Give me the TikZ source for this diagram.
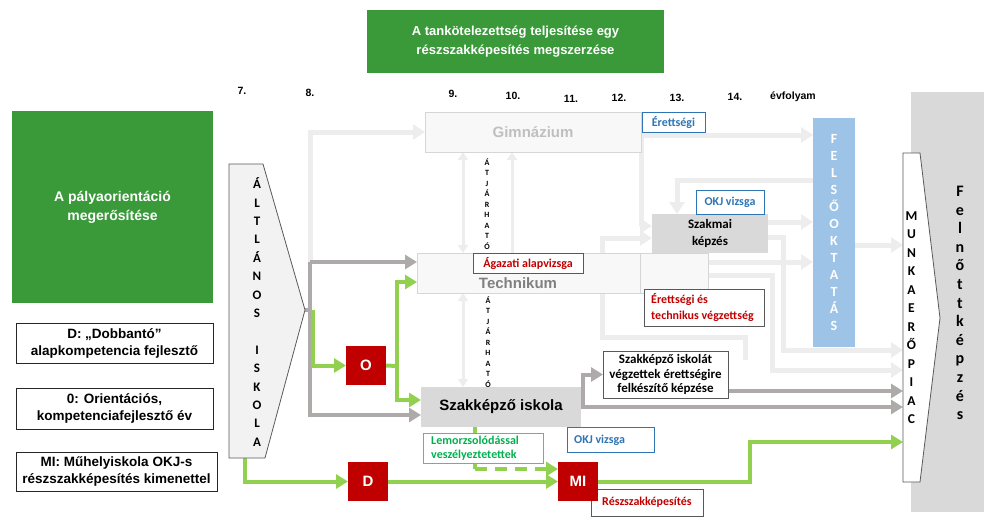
\documentclass[tikz,border=0pt]{standalone}
\usepackage{fontspec}
\setmainfont{Liberation Sans}
\newfontfamily\calib{Carlito}
\usetikzlibrary{arrows.meta,backgrounds}
\definecolor{dkgreen}{HTML}{3A9A3A}
\definecolor{redbox}{HTML}{C00000}
\definecolor{grc}{HTML}{92D050}
\definecolor{dgc}{HTML}{AEAAAA}
\definecolor{lgc}{HTML}{EDEDED}
\definecolor{bluet}{HTML}{2E75B6}
\definecolor{bluebox}{HTML}{9DC3E6}
\definecolor{boxgray}{HTML}{D9D9D9}
\definecolor{ghost}{HTML}{F8F8F8}
\definecolor{ghostline}{HTML}{D6D6D6}
\definecolor{bordc}{HTML}{595959}
\definecolor{lemg}{HTML}{00B050}
\begin{document}
\begin{tikzpicture}[x=1pt,y=-1pt,
 box/.style={inner sep=0pt,outer sep=0pt,anchor=north west,align=center},
 lg/.style={draw=lgc,line width=5pt,-{Triangle[length=12pt,width=15pt]}},
 lgd/.style={draw=lgc,line width=3pt,{Triangle[length=8pt,width=10pt]}-{Triangle[length=8pt,width=10pt]}},
 lgu/.style={draw=lgc,line width=3pt,{Triangle[length=8pt,width=10pt]}-},
 dg/.style={draw=dgc,line width=4pt,-{Triangle[length=12pt,width=14pt]}},
 dgp/.style={draw=dgc,line width=4pt},
 gr/.style={draw=grc,line width=4pt,-{Triangle[length=12pt,width=14pt]}},
 grp/.style={draw=grc,line width=4pt},
 lbl/.style={box,draw=bordc,line width=0.8pt,fill=white,font=\calib\bfseries\fontsize{12}{14}\selectfont},
 okj/.style={lbl,draw=bluet,text=bluet},
 legend/.style={box,draw=black!85,line width=0.9pt,fill=white,font=\bfseries\fontsize{13.5}{17}\selectfont},
 grade/.style={font=\bfseries\fontsize{10.5}{12}\selectfont},
 redsq/.style={box,fill=redbox,text=white,minimum width=40pt,minimum height=39pt,font=\bfseries\fontsize{15}{17}\selectfont},
 ghostbox/.style={box,fill=ghost,draw=ghostline,line width=1pt},
 vlet/.style={align=center,inner sep=0pt}
]
\useasboundingbox (0,0) rectangle (989,530);

% background column
\node[box,fill=boxgray,minimum width=73pt,minimum height=420pt] (felnott) at (911,92) {};
\node[vlet,font=\calib\bfseries\fontsize{16}{18.6}\selectfont] (felnotttxt) at (960,303)
 {F\\e\\l\\n\\ő\\t\\t\\k\\é\\p\\z\\é\\s};

% titles
\node[box,fill=dkgreen,text=white,minimum width=297pt,minimum height=63pt,
 font=\bfseries\fontsize{13}{19}\selectfont] (title) at (367,10)
 {A tankötelezettség teljesítése egy\\részszakképesítés megszerzése};
\node[box,fill=dkgreen,text=white,minimum width=201pt,minimum height=192pt,
 font=\bfseries\fontsize{14}{19}\selectfont] (palya) at (12,111)
 {A pályaorientáció\\megerősítése};

% grades
\node[grade] (g7) at (242,91) {7.};
\node[grade] (g8) at (310,93) {8.};
\node[grade] (g9) at (453,94) {9.};
\node[grade] (g10) at (513,96) {10.};
\node[grade] (g11) at (571,99) {11.};
\node[grade] (g12) at (619,98) {12.};
\node[grade] (g13) at (677,98) {13.};
\node[grade] (g14) at (735,97) {14.};
\node[grade] (gev) at (793,97) {évfolyam};

% legend
\node[legend,minimum width=197pt,minimum height=40pt] (legD) at (16,323) {D: „Dobbantó”\\alapkompetencia fejlesztő};
\node[legend,minimum width=197pt,minimum height=41pt] (leg0) at (16,388) {0: Orientációs,\\kompetenciafejlesztő év};
\node[legend,minimum width=201pt,minimum height=39pt] (legMI) at (16,452) {MI: Műhelyiskola OKJ-s\\részszakképesítés kimenettel};

% Altalanos iskola
\draw[fill=black!5,draw=black!65,line width=0.8pt] (229,164) -- (263,164) -- (305,310) -- (265,458) -- (229,458) -- cycle;
\node[vlet,font=\calib\bfseries\fontsize{13}{18.4}\selectfont] (alt) at (257,312)
 {Á\\L\\T\\L\\Á\\N\\O\\S\\~\\I\\S\\K\\O\\L\\A};
\coordinate (alttip) at (305,310);
\coordinate (altbot) at (245,458);

% schools
\node[ghostbox,minimum width=216pt,minimum height=40pt,text=black!25,font=\bfseries\fontsize{15}{17}\selectfont] (gimn) at (425,112) {Gimnázium};
\node[okj,minimum width=63pt,minimum height=20pt] (eretts) at (642,112) {Érettségi};
\node[ghostbox,minimum width=223pt,minimum height=40pt] (tech) at (417,253) {};
\node[ghostbox,minimum width=68pt,minimum height=40pt] (techx) at (640,253) {};
\node[text=black!50,font=\bfseries\fontsize{15}{17}\selectfont] (techtxt) at (518,283) {Technikum};
\node[lbl,text=redbox,minimum width=110pt,minimum height=20pt] (agaz) at (473,253) {Ágazati alapvizsga};
\node[box,fill=boxgray,minimum width=160pt,minimum height=40pt,font=\bfseries\fontsize{15}{17}\selectfont] (szak) at (421,387) {Szakképző iskola};
\node[box,fill=boxgray,minimum width=116pt,minimum height=39pt,font=\calib\bfseries\fontsize{13}{17}\selectfont] (szakmai) at (652,214) {Szakmai\\képzés};
\node[okj,minimum width=68pt,minimum height=24pt] (okj1) at (696,190) {OKJ vizsga};
\node[lbl,minimum width=120pt,minimum height=37pt] (erttech) at (644,289) {};
\node[anchor=west,align=left,inner sep=0pt,text=redbox,font=\calib\bfseries\fontsize{12}{16}\selectfont] (erttechtxt) at (651,307) {Érettségi és\\technikus végzettség};
\node[lbl,minimum width=125pt,minimum height=47pt,font=\calib\bfseries\fontsize{13}{14.5}\selectfont] (vegz) at (603,351) {Szakképző iskolát\\végzettek érettségire\\felkészítő képzése};
\node[okj,minimum width=87pt,minimum height=25pt] (okj2) at (567,427) {};
\node[anchor=west,inner sep=0pt,text=bluet,font=\calib\bfseries\fontsize{12}{14}\selectfont] (okj2txt) at (574,440) {OKJ vizsga};
\node[lbl,draw=black!40,minimum width=120pt,minimum height=30pt] (lemor) at (423,433) {};
\node[anchor=west,align=left,inner sep=0pt,text=lemg,font=\calib\bfseries\fontsize{12}{14.5}\selectfont] (lemortxt) at (431,448) {Lemorzsolódással\\veszélyeztetettek};

% ATJARHATO texts
\node[vlet,font=\calib\bfseries\fontsize{8}{10.5}\selectfont] (atj1) at (487,204) {Á\\T\\J\\Á\\R\\H\\A\\T\\Ó};
\node[vlet,font=\calib\bfseries\fontsize{8}{10.5}\selectfont] (atj2) at (488,342) {Á\\T\\J\\Á\\R\\H\\A\\T\\Ó};

% felsooktatas
\node[box,fill=bluebox,text=white,minimum width=42pt,minimum height=229pt,font=\calib\bfseries\fontsize{14}{17}\selectfont] (felso) at (813,118)
 {F\\E\\L\\S\\Ő\\O\\K\\T\\A\\T\\Á\\S};

% munkaeropiac
\draw[fill=white,draw=black!65,line width=0.8pt] (903,153) -- (920,153) -- (940,318) -- (920,482) -- (903,482) -- cycle;
\node[box,minimum width=17pt,minimum height=329pt,font=\calib\bfseries\fontsize{13.5}{18.5}\selectfont] (munka) at (903,153)
 {M\\U\\N\\K\\A\\E\\R\\Ő\\P\\I\\A\\C};

% red squares
\node[redsq] (O) at (346,346) {O};
\node[lbl,text=redbox,minimum width=112pt,minimum height=27pt] (resz) at (591,489) {Részszakképesítés};
\node[redsq] (D) at (348,462) {D};
\node[redsq] (MI) at (558,462) {MI};

\coordinate (j1) at (310,262);
\coordinate (j2) at (397,366);
\coordinate (j3) at (583,407);
\coordinate (ls) at (745,360);

\begin{pgfonlayer}{background}
% light gray
\draw[lg] (j1) |- (gimn.west);
\draw[lg] ([yshift=-3pt]gimn.east) -- ([yshift=-3pt]gimn.east -| felso.west);
\draw[lg] ([yshift=-3pt]gimn.east) |- ([yshift=7.5pt]szakmai.west);
\draw[lg] (felso.west |- 0,180) -| ([xshift=-33pt]szakmai.north);
\draw[lg] ([yshift=11.5pt]szakmai.east) -- ([yshift=11.5pt]szakmai.east -| felso.west);
\draw[lg] ([yshift=-3.5pt]szakmai.east) -| (783,350) -- (munka.west |- 0,350);
\draw[lg] ([yshift=11pt]techx.east) -- ([yshift=11pt]techx.east -| felso.west);
\draw[lg] ([yshift=-2pt]techx.east) -| (772,370) -- (munka.west |- 0,370);
\draw[lg] (felso.east |- 0,245) -- (munka.west |- 0,245);
\draw[lg] (ls) |- (602,337) |- ([yshift=-4.5pt]szakmai.west);
\draw[lgd] (463,0 |- gimn.south) -- (463,0 |- tech.north);
\draw[lgu] (512,0 |- gimn.south) -- (512,0 |- tech.north);
\draw[lgd] (463,0 |- tech.south) -- (463,0 |- szak.north);
% dark gray
\draw[dgp] (alttip) -- (j1 |- alttip);
\draw[dg] (j1) -- (tech.west |- j1);
\draw[dg] (j1) |- ([yshift=-8pt]szak.west);
\draw[dg] (szak.east) -- (szak.east -| munka.west);
\draw[dg] (j3) |- (vegz.west);
\draw[dg] ([yshift=-16.5pt]vegz.east) -- ([yshift=-16.5pt]vegz.east -| munka.west);
% green
\draw[gr] (313,310) |- (O.west);
\draw[grp] (O.east) -- (j2);
\draw[gr] (j2) |- ([yshift=-9pt]tech.west);
\draw[gr] (j2) |- ([yshift=7pt]szak.west);
\draw[gr] (altbot) |- (D.west);
\draw[gr] (D.east) -- (MI.west);
\draw[grp] ([xshift=-26pt]szak.south) -- (475,469);
\draw[gr,dash pattern=on 12pt off 8pt] (475,469) -- ([yshift=12.5pt]MI.west);
\draw[gr] (MI.east) -| (750,442) -- (munka.west |- 0,442);
\end{pgfonlayer}
\end{tikzpicture}
\end{document}
